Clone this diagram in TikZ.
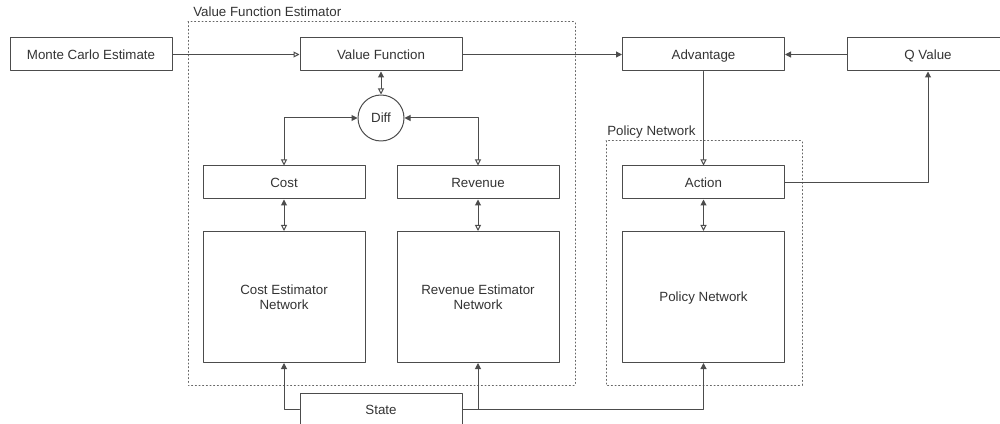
\documentclass[tikz,border=0pt]{standalone}
\usepackage{fontspec}
\setmainfont{Liberation Sans}
\usetikzlibrary{arrows.meta}
\begin{document}
\begin{tikzpicture}[x=0.75pt, y=-0.75pt, font=\fontsize{10}{11.5}\selectfont, line join=round, line cap=round]
	\tikzset{fillhead/.tip={Triangle[length=4.5pt,width=4.5pt]},
		openhead/.tip={Triangle[open,length=4.5pt,width=4.5pt,fill=white]},
		box style/.style={draw=black!70, line width=0.75pt, text=black!80, minimum width=121.5pt, minimum height=24.75pt, inner sep=0pt, align=center},
		one line/.style={text height=7.2pt, text depth=0pt},
		net style/.style={box style, minimum height=98.25pt},
		group style/.style={draw=black!60, line width=0.75pt, dotted},
		group label/.style={text=black!80, anchor=base west, inner sep=0pt},
		link/.style={draw=black!70, line width=0.75pt}}
	\clip (0,0) rectangle (1000,424);
	% groups
	\draw[group style] (188,22) rectangle (575,385);
	\draw[group style] (606,141) rectangle (802,385);
	\node[group label] (vfelabel) at (193,17) {Value Function Estimator};
	\node[group label] (pnlabel) at (607,136) {Policy Network};
	% boxes
	\node[box style, one line] (mc) at (91,54.5) {Monte Carlo Estimate};
	\node[box style, one line] (vf) at (381,54.5) {Value Function};
	\node[box style, one line] (adv) at (703.5,54.5) {Advantage};
	\node[box style, one line] (qv) at (928,54.5) {Q Value};
	\node[box style, one line, circle, minimum size=34.5pt, minimum width=34.5pt] (diff) at (381,118) {Diff};
	\node[box style, one line] (cost) at (284,182.5) {Cost};
	\node[box style, one line] (rev) at (478,182.5) {Revenue};
	\node[box style, one line] (act) at (703.5,182.5) {Action};
	\node[net style] (costnet) at (284,297) {Cost Estimator\\Network};
	\node[net style] (revnet) at (478,297) {Revenue Estimator\\Network};
	\node[net style, one line] (polnet) at (703.5,297) {Policy Network};
	\node[box style, one line] (state) at (381,409.5) {State};
	% connectors
	\draw[link, -openhead] (mc) -- (vf);
	\draw[link, fillhead-openhead] (vf) -- (diff);
	\draw[link, fillhead-openhead] (diff.west) -| (cost.north);
	\draw[link, fillhead-openhead] (diff.east) -| (rev.north);
	\draw[link, fillhead-openhead] (cost) -- (costnet);
	\draw[link, fillhead-openhead] (rev) -- (revnet);
	\draw[link, -fillhead] (vf) -- (adv);
	\draw[link, -fillhead] (qv) -- (adv);
	\draw[link, -openhead] (adv) -- (act);
	\draw[link, -fillhead] (act.east) -| (qv.south);
	\draw[link, fillhead-openhead] (act) -- (polnet);
	\draw[link, -fillhead] (state.west) -| (costnet.south);
	\draw[link, -fillhead] (state.east) -| (revnet.south);
	\draw[link, -fillhead] (state.east) -| (polnet.south);
\end{tikzpicture}
\end{document}
